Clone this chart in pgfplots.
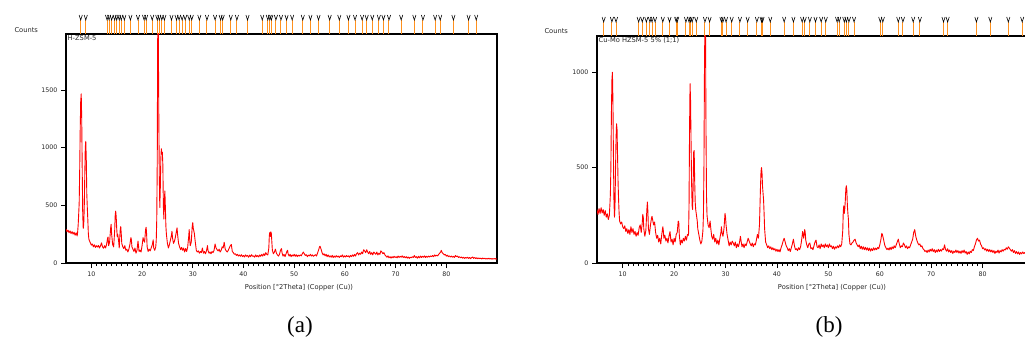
\documentclass[border=0pt]{standalone}
\usepackage{fontspec}
\setmainfont{DejaVu Sans}
\newfontfamily\capfont{Liberation Serif}
\usepackage{pgfplots}
\usepackage{pgfplotstable}
\pgfplotsset{compat=1.18}
\definecolor{stick}{RGB}{255,145,30}
\newcommand{\lab}{\fontsize{6.7}{8}\selectfont}
\pgfdeclareplotmark{vmark}{%
  \pgfpathmoveto{\pgfqpoint{-1.6pt}{5pt}}%
  \pgfpathlineto{\pgfqpoint{0pt}{0pt}}%
  \pgfpathlineto{\pgfqpoint{1.6pt}{5pt}}%
  \pgfusepathqstroke}
\pgfplotsset{
  xrd/.style={scale only axis, xmin=5, xmax=90, ymin=0,
    axis line style={line width=1.1pt},
    xtick={10,20,...,80}, minor x tick num=9,
    tick align=outside, xtick pos=left, ytick pos=left,
    major tick length=5pt, minor tick length=3pt,
    every tick/.style={black, line width=0.6pt},
    tick label style={font=\fontsize{6.3}{7}\selectfont, text=black!85},
    /pgf/number format/assume math mode=true,
    /pgf/number format/set thousands separator={},
    xticklabel style={yshift=-0.5pt},
  },
  marks/.style={scale only axis, xmin=5, xmax=90, ymin=0, ymax=1, hide axis, clip=false},
}
\pgfplotstableread{
x y
5.0 295
5.2 270
5.4 285
5.6 262
5.8 278
6.0 255
6.2 272
6.4 250
6.6 266
6.8 240
7.0 262
7.2 235
7.3 270
7.4 330
7.5 420
7.6 520
7.7 800
7.8 1150
7.9 1400
8.0 1465
8.1 1250
8.2 800
8.3 420
8.4 300
8.5 340
8.6 480
8.7 750
8.8 1000
8.9 1055
9.0 900
9.1 600
9.2 480
9.3 380
9.4 260
9.5 210
9.6 195
9.8 175
10.0 155
10.2 165
10.4 140
10.6 158
10.8 135
11.0 150
11.2 138
11.4 152
11.6 130
11.8 148
12.0 175
12.2 140
12.4 128
12.6 150
12.8 130
13.0 160
13.2 215
13.3 225
13.4 150
13.6 180
13.8 300
13.9 335
14.0 250
14.2 160
14.4 140
14.6 280
14.7 410
14.8 450
14.9 400
15.0 300
15.1 230
15.2 250
15.4 180
15.5 130
15.6 220
15.7 290
15.8 315
15.9 250
16.0 170
16.2 140
16.4 125
16.6 150
16.8 110
17.0 120
17.2 95
17.4 120
17.6 160
17.8 220
17.9 200
18.0 140
18.2 120
18.4 100
18.6 130
18.8 85
19.0 110
19.2 190
19.3 150
19.4 100
19.6 110
19.8 95
20.0 150
20.2 220
20.3 200
20.5 180
20.7 290
20.8 310
20.9 250
21.0 140
21.2 100
21.4 120
21.6 105
21.8 130
22.0 155
22.2 200
22.3 130
22.5 110
22.7 140
22.8 200
22.9 380
23.0 900
23.05 1600
23.1 2100
23.2 2050
23.3 1300
23.4 750
23.5 480
23.6 650
23.7 900
23.8 990
23.9 950
24.0 960
24.1 850
24.2 500
24.3 380
24.4 550
24.5 625
24.6 480
24.7 320
24.8 250
25.0 170
25.2 130
25.4 160
25.6 200
25.8 240
25.9 275
26.0 220
26.2 170
26.4 190
26.6 230
26.8 280
26.9 305
27.0 250
27.2 170
27.4 140
27.6 115
27.8 135
28.0 110
28.2 130
28.4 95
28.6 125
28.8 100
29.0 140
29.2 230
29.3 290
29.4 200
29.5 150
29.7 180
29.9 320
30.0 350
30.1 300
30.3 260
30.5 180
30.7 110
30.9 95
31.1 105
31.3 85
31.5 100
31.7 90
31.9 130
32.1 85
32.3 100
32.5 80
32.7 105
32.9 150
33.0 110
33.2 85
33.4 95
33.6 80
33.8 100
34.0 90
34.2 110
34.4 165
34.6 130
34.8 115
35.0 105
35.2 120
35.4 95
35.6 110
35.8 140
36.0 130
36.2 180
36.4 120
36.6 105
36.8 95
37.0 110
37.2 130
37.4 150
37.6 160
37.8 100
38.0 90
38.2 75
38.4 80
38.6 65
38.8 75
39.0 60
39.2 70
39.4 58
39.6 72
39.8 55
40.0 65
40.2 52
40.4 70
40.6 58
40.8 66
41.0 50
41.2 68
41.4 55
41.6 72
41.8 58
42.0 62
42.2 50
42.4 70
42.6 55
42.8 65
43.0 52
43.2 70
43.4 58
43.6 75
43.8 60
44.0 80
44.2 65
44.4 90
44.6 75
44.8 70
45.0 130
45.1 240
45.2 265
45.3 230
45.4 270
45.5 255
45.6 180
45.7 110
45.9 80
46.1 95
46.3 120
46.5 85
46.7 70
46.9 60
47.1 75
47.3 110
47.5 125
47.6 90
47.8 60
48.0 75
48.2 55
48.4 80
48.6 105
48.7 110
48.8 80
49.0 60
49.2 75
49.4 55
49.6 70
49.8 60
50.0 75
50.2 58
50.4 72
50.6 55
50.8 68
51.0 60
51.2 70
51.4 62
51.6 80
51.8 95
52.0 80
52.2 65
52.4 72
52.6 55
52.8 68
53.0 62
53.2 75
53.4 60
53.6 70
53.8 58
54.0 65
54.2 72
54.4 60
54.6 85
54.8 110
55.0 140
55.1 145
55.3 120
55.5 90
55.7 70
55.9 80
56.1 62
56.3 75
56.5 55
56.7 70
56.9 52
57.1 62
57.3 50
57.5 66
57.7 48
57.9 60
58.1 50
58.3 64
58.5 52
58.7 60
58.9 48
59.1 62
59.3 55
59.5 70
59.7 50
59.9 62
60.1 52
60.3 65
60.5 55
60.7 62
60.9 50
61.1 66
61.3 55
61.5 70
61.7 58
61.9 75
62.1 60
62.3 80
62.5 90
62.7 70
62.9 85
63.1 75
63.3 95
63.5 80
63.7 115
63.9 105
64.1 90
64.3 115
64.5 95
64.7 80
64.9 100
65.1 75
65.3 90
65.5 70
65.7 95
65.9 85
66.1 75
66.3 95
66.5 70
66.7 85
66.9 75
67.1 105
67.3 95
67.5 80
67.7 90
67.9 70
68.1 60
68.3 50
68.5 62
68.7 45
68.9 55
69.1 42
69.3 55
69.5 45
69.7 58
69.9 48
70.1 55
70.3 45
70.5 60
70.7 48
70.9 58
71.1 50
71.3 62
71.5 48
71.7 56
71.9 45
72.1 55
72.3 42
72.5 52
72.7 40
72.9 50
73.1 45
73.3 55
73.5 48
73.7 65
73.9 48
74.1 55
74.3 42
74.5 58
74.7 45
74.9 60
75.1 48
75.3 58
75.5 50
75.7 62
75.9 48
76.1 58
76.3 50
76.5 60
76.7 52
76.9 62
77.1 55
77.3 65
77.5 55
77.7 70
77.9 60
78.1 68
78.3 62
78.5 75
78.7 85
78.9 95
79.0 110
79.2 90
79.4 80
79.6 70
79.8 75
80.0 60
80.2 68
80.4 55
80.6 62
80.8 52
81.0 60
81.2 50
81.4 58
81.6 48
81.8 65
82.0 55
82.2 60
82.4 48
82.6 55
82.8 45
83.0 52
83.2 42
83.4 50
83.6 40
83.8 48
84.0 42
84.2 50
84.4 40
84.6 48
84.8 38
85.0 46
85.2 52
85.4 40
85.6 48
85.8 38
86.0 45
86.2 36
86.4 44
86.6 38
86.8 42
87.0 35
87.2 43
87.4 36
87.6 42
87.8 34
88.0 40
88.2 35
88.4 42
88.6 34
88.8 40
89.0 33
89.2 38
89.4 34
89.6 40
89.8 33
90.0 36
}\dataA
\pgfplotstableread{
x y
5.0 280
5.2 255
5.4 285
5.6 260
5.8 290
6.0 262
6.2 280
6.4 250
6.6 275
6.8 240
7.0 258
7.2 228
7.4 250
7.5 300
7.6 360
7.7 500
7.8 780
7.9 960
8.0 1000
8.1 850
8.2 550
8.3 320
8.4 240
8.5 300
8.6 480
8.7 650
8.8 730
8.9 700
9.0 560
9.1 420
9.2 330
9.3 260
9.4 220
9.6 205
9.8 215
10.0 190
10.2 180
10.4 195
10.6 165
10.8 180
11.0 155
11.2 175
11.4 150
11.6 190
11.8 160
12.0 180
12.2 150
12.4 165
12.6 140
12.8 160
13.0 145
13.2 185
13.4 200
13.6 160
13.8 210
13.9 255
14.0 240
14.1 180
14.3 140
14.5 170
14.7 280
14.8 320
14.9 270
15.0 180
15.2 150
15.4 200
15.6 235
15.7 245
15.8 230
16.0 200
16.2 215
16.4 160
16.6 130
16.8 145
17.0 110
17.2 130
17.4 100
17.6 150
17.8 190
17.9 170
18.0 130
18.2 145
18.4 115
18.6 130
18.8 105
19.0 140
19.2 165
19.4 110
19.6 125
19.8 95
20.0 130
20.2 110
20.4 150
20.6 160
20.8 220
20.9 215
21.0 150
21.2 95
21.4 120
21.6 105
21.8 130
22.0 115
22.2 140
22.4 120
22.6 150
22.8 145
22.9 300
23.0 700
23.1 940
23.2 850
23.3 620
23.4 420
23.5 300
23.6 280
23.7 400
23.8 580
23.9 590
24.0 430
24.1 320
24.2 280
24.4 240
24.5 220
24.6 180
24.8 150
25.0 120
25.2 100
25.4 115
25.6 170
25.7 250
25.8 500
25.9 1000
26.0 1300
26.1 1250
26.2 700
26.3 350
26.4 250
26.6 200
26.8 185
27.0 220
27.1 190
27.3 140
27.5 125
27.7 150
27.9 110
28.1 130
28.3 100
28.5 120
28.7 95
28.9 130
29.1 160
29.2 190
29.3 160
29.5 140
29.7 180
29.9 260
30.0 240
30.1 200
30.3 150
30.5 120
30.7 90
30.9 110
31.1 95
31.3 115
31.5 105
31.7 90
31.9 110
32.1 80
32.3 100
32.5 85
32.7 105
32.9 140
33.0 120
33.2 85
33.4 100
33.6 80
33.8 100
34.0 90
34.2 110
34.4 130
34.6 115
34.8 100
35.0 90
35.2 105
35.4 85
35.6 100
35.8 95
36.0 120
36.2 150
36.4 130
36.6 200
36.7 300
36.8 400
36.9 480
37.0 500
37.1 470
37.2 400
37.4 330
37.5 260
37.6 180
37.8 110
38.0 95
38.2 80
38.4 90
38.6 75
38.8 85
39.0 70
39.2 80
39.4 68
39.6 75
39.8 62
40.0 72
40.2 60
40.4 70
40.6 58
40.8 80
41.0 95
41.2 115
41.4 130
41.6 110
41.8 90
42.0 80
42.2 65
42.4 75
42.6 60
42.8 80
43.0 100
43.2 125
43.4 90
43.6 70
43.8 75
44.0 65
44.2 80
44.4 70
44.6 85
44.8 120
45.0 165
45.1 150
45.2 130
45.4 175
45.5 160
45.6 120
45.8 95
46.0 80
46.2 100
46.4 105
46.6 75
46.8 80
47.0 70
47.2 90
47.4 110
47.6 120
47.8 85
48.0 80
48.2 95
48.4 75
48.6 100
48.8 85
49.0 95
49.2 80
49.4 100
49.6 85
49.8 95
50.0 80
50.2 100
50.4 85
50.6 90
50.8 75
51.0 88
51.2 72
51.4 85
51.6 78
51.8 90
52.0 80
52.2 95
52.4 85
52.6 100
52.8 170
52.9 270
53.0 300
53.1 260
53.2 285
53.3 330
53.4 390
53.5 405
53.6 380
53.7 300
53.8 260
53.9 230
54.0 150
54.2 100
54.4 95
54.6 105
54.8 110
55.0 120
55.2 125
55.4 105
55.6 95
55.8 85
56.0 95
56.2 75
56.4 88
56.6 72
56.8 85
57.0 70
57.2 82
57.4 68
57.6 80
57.8 65
58.0 78
58.2 62
58.4 75
58.6 65
58.8 80
59.0 68
59.2 78
59.4 70
59.6 82
59.8 75
60.0 95
60.2 120
60.4 155
60.5 150
60.6 140
60.8 115
61.0 90
61.2 80
61.4 70
61.6 78
61.8 68
62.0 82
62.2 70
62.4 85
62.6 75
62.8 90
63.0 80
63.2 95
63.4 110
63.6 125
63.8 100
64.0 80
64.2 90
64.4 85
64.6 105
64.8 95
65.0 80
65.2 90
65.4 75
65.6 85
65.8 80
66.0 95
66.2 110
66.4 125
66.6 160
66.8 175
67.0 140
67.2 120
67.4 105
67.6 95
67.8 100
68.0 85
68.2 90
68.4 75
68.6 70
68.8 60
69.0 65
69.2 55
69.4 68
69.6 58
69.8 72
70.0 62
70.2 75
70.4 60
70.6 70
70.8 55
71.0 68
71.2 58
71.4 72
71.6 60
71.8 70
72.0 62
72.2 75
72.4 70
72.6 95
72.8 70
73.0 62
73.2 75
73.4 58
73.6 68
73.8 55
74.0 65
74.2 50
74.4 62
74.6 55
74.8 68
75.0 55
75.2 65
75.4 52
75.6 62
75.8 50
76.0 65
76.2 55
76.4 68
76.6 52
76.8 60
77.0 45
77.2 58
77.4 48
77.6 62
77.8 55
78.0 70
78.2 65
78.4 85
78.6 100
78.8 120
79.0 130
79.2 115
79.4 120
79.6 100
79.8 90
80.0 75
80.2 80
80.4 68
80.6 75
80.8 62
81.0 72
81.2 60
81.4 70
81.6 58
81.8 68
82.0 55
82.2 65
82.4 50
82.6 62
82.8 55
83.0 68
83.2 52
83.4 65
83.6 58
83.8 70
84.0 62
84.2 72
84.4 68
84.6 80
84.8 72
85.0 85
85.2 78
85.4 70
85.6 62
85.8 70
86.0 55
86.2 65
86.4 50
86.6 60
86.8 48
87.0 58
87.2 45
87.4 55
87.6 48
87.8 58
88.0 50
88.2 55
88.4 45
88.6 52
88.8 46
89.0 55
89.2 45
89.4 52
89.6 48
89.8 55
90.0 50
}\dataB
\begin{document}
\begin{tikzpicture}
\useasboundingbox (0pt,0pt) rectangle (1025pt,343pt);
% ---------- panel (a)
\begin{axis}[xrd, at={(66pt,80pt)}, anchor=south west,
  width=431pt, height=229pt, ymax=1984, ytick={0,500,1000,1500}]
\addplot[red, line width=0.9pt, line join=round] table[x=x,y=y] {\dataA};
\node[anchor=north west, inner sep=1.5pt, font=\lab, text=black!85] at (rel axis cs:0,1) {H-ZSM-5};
\end{axis}
\begin{axis}[marks, at={(66pt,309pt)}, anchor=south west, width=431pt, height=14pt]
\addplot[ycomb, stick, line width=1pt, mark=vmark, mark options={black, line width=0.6pt, solid}] coordinates {
(7.9,1)(8.9,1)(13.1,1)(13.5,1)(14.0,1)(14.6,1)(15.0,1)(15.5,1)(15.9,1)(16.5,1)(17.7,1)(19.2,1)(20.4,1)(20.8,1)(22.0,1)(23.0,1)(23.4,1)(23.9,1)(24.4,1)(25.8,1)(26.8,1)(27.3,1)(27.9,1)(28.5,1)(29.3,1)(29.8,1)(31.3,1)(32.8,1)(34.4,1)(35.5,1)(35.9,1)(37.5,1)(38.7,1)(40.8,1)(43.7,1)(44.8,1)(45.2,1)(45.5,1)(46.4,1)(47.4,1)(48.5,1)(49.6,1)(51.7,1)(53.2,1)(54.8,1)(57.0,1)(58.9,1)(60.7,1)(62.0,1)(63.4,1)(64.3,1)(65.4,1)(66.7,1)(67.6,1)(68.7,1)(71.1,1)(73.7,1)(75.4,1)(77.8,1)(78.8,1)(81.4,1)(84.4,1)(85.9,1)};
\end{axis}
\node[anchor=west, font=\lab, text=black!85] at (11pt,313pt) {Counts};
\node[font=\lab, text=black!85] at (299pt,55pt) {Position [°2Theta] (Copper (Cu))};
\node[font=\capfont\fontsize{23}{26}\selectfont] at (300pt,16pt) {(a)};
% ---------- panel (b)
\begin{axis}[xrd, at={(597pt,80pt)}, anchor=south west,
  width=437pt, height=227pt, ymax=1190, ytick={0,500,1000}]
\addplot[red, line width=0.9pt, line join=round] table[x=x,y=y] {\dataB};
\node[anchor=north west, inner sep=1.5pt, font=\lab, text=black!85] at (rel axis cs:0,1) {Cu-Mo HZSM-5 5\% (1;1)};
\end{axis}
\begin{axis}[marks, at={(597pt,307pt)}, anchor=south west, width=437pt, height=14pt]
\addplot[ycomb, stick, line width=1pt, mark=vmark, mark options={black, line width=0.6pt, solid}] coordinates {
(6.3,1)(7.9,1)(8.7,1)(13.1,1)(13.8,1)(14.6,1)(15.3,1)(15.7,1)(16.3,1)(17.8,1)(19.1,1)(20.4,1)(20.6,1)(22.3,1)(22.9,1)(23.2,1)(23.5,1)(24.3,1)(26.0,1)(26.9,1)(29.2,1)(29.5,1)(30.1,1)(31.2,1)(32.8,1)(34.3,1)(36.1,1)(37.0,1)(37.2,1)(38.7,1)(41.4,1)(43.2,1)(44.9,1)(45.4,1)(46.4,1)(47.5,1)(48.6,1)(49.5,1)(51.7,1)(52.1,1)(53.1,1)(53.5,1)(54.0,1)(55.0,1)(60.1,1)(60.6,1)(63.6,1)(64.5,1)(66.5,1)(67.8,1)(72.4,1)(73.2,1)(78.8,1)(81.5,1)(85.0,1)(87.7,1)};
\end{axis}
\node[anchor=west, font=\lab, text=black!85] at (541pt,312pt) {Counts};
\node[font=\lab, text=black!85] at (832pt,55pt) {Position [°2Theta] (Copper (Cu))};
\node[font=\capfont\fontsize{23}{26}\selectfont] at (829pt,16pt) {(b)};
\end{tikzpicture}
\end{document}
